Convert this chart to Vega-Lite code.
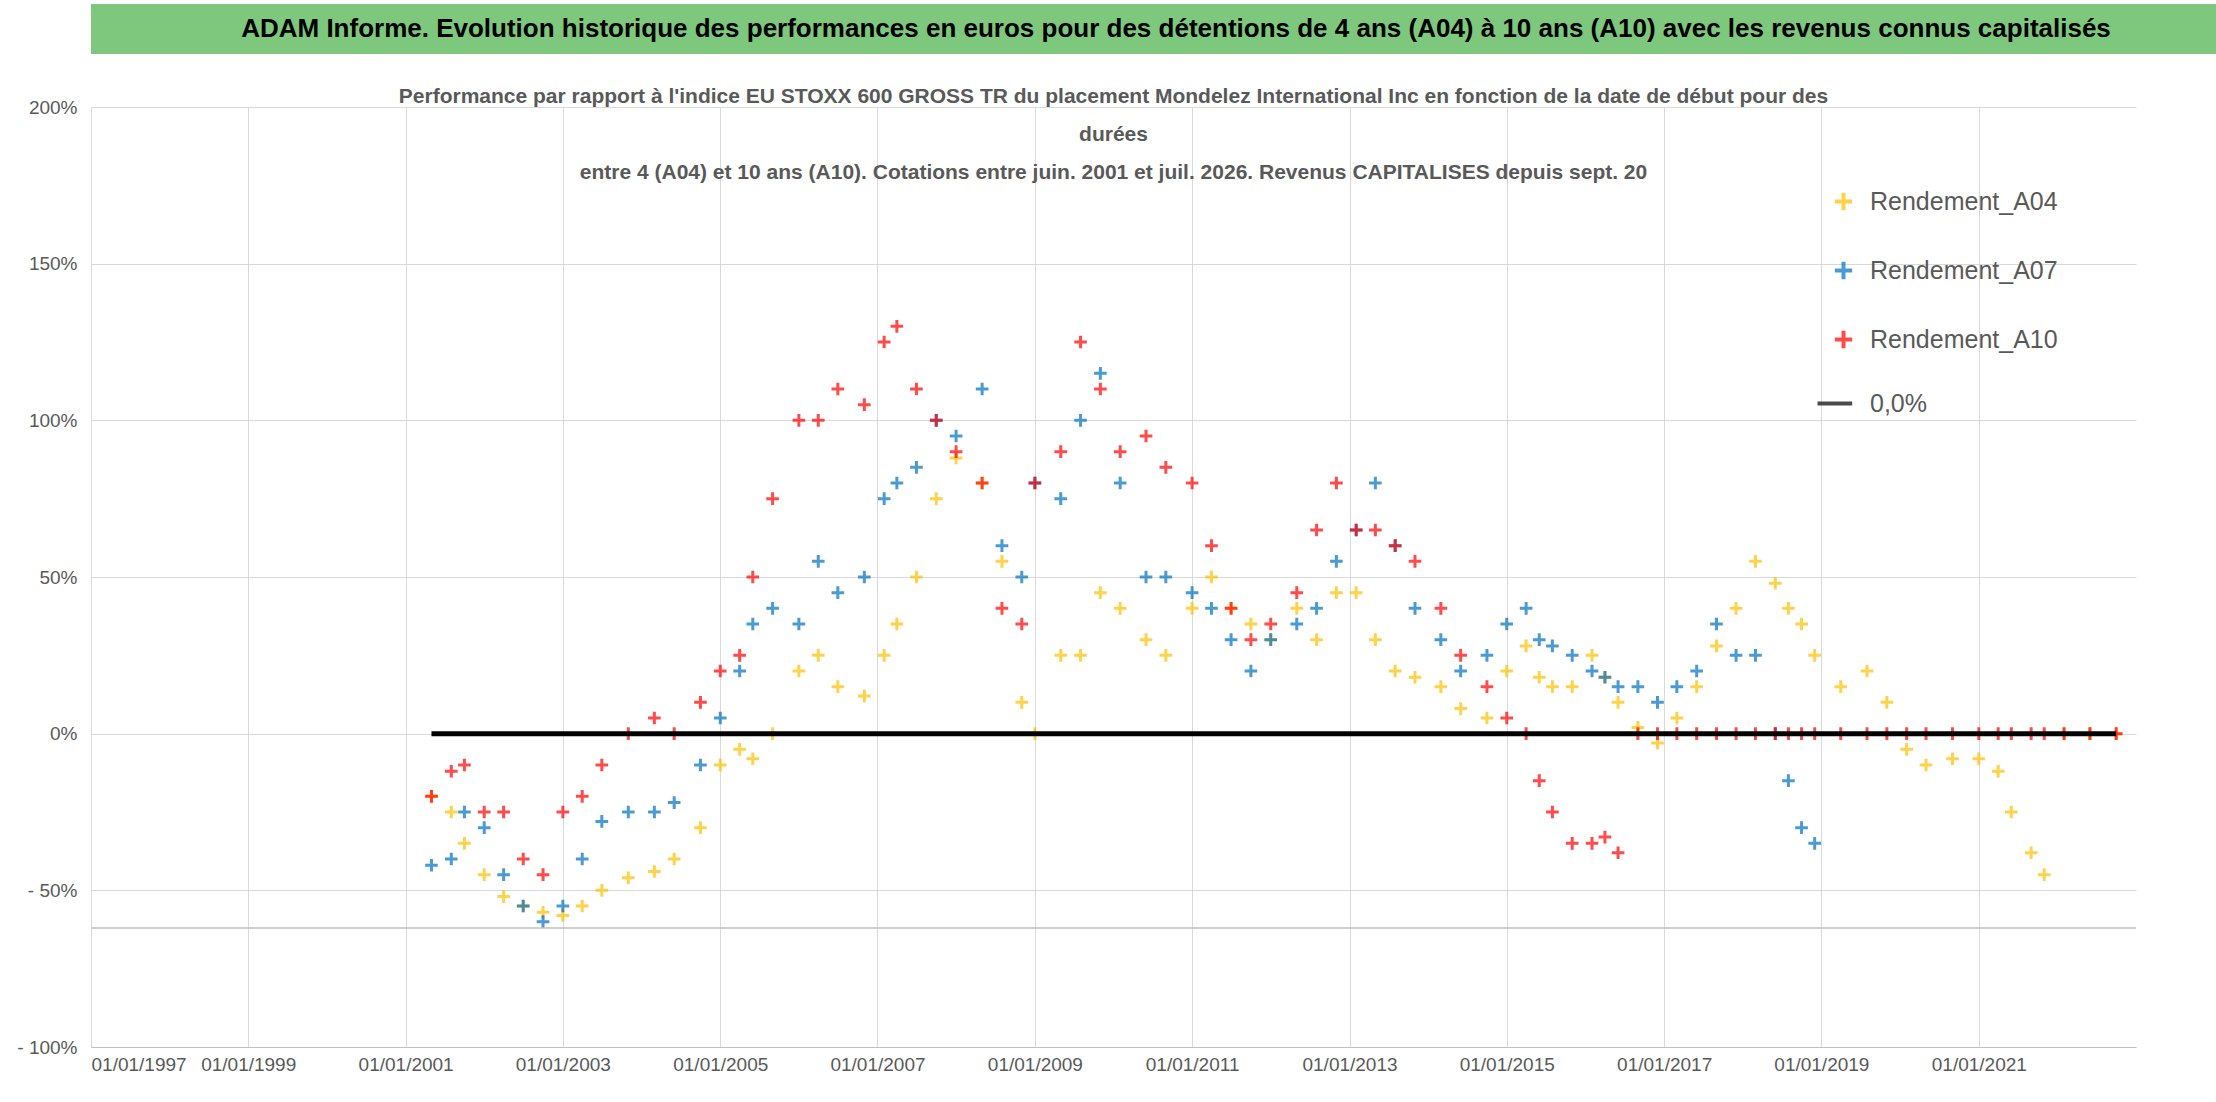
{
  "$schema": "https://vega.github.io/schema/vega-lite/v6.json",
  "background": "white",
  "padding": {"left": 16, "top": 4, "right": 4, "bottom": 4},
  "config": {"font": "Liberation Sans", "view": {"stroke": null}, "concat": {"spacing": 32}},
  "vconcat": [
    {
      "width": 2170,
      "height": 50,
      "view": {"fill": "#7ec87e", "stroke": null},
      "data": {"values": [{"t": "ADAM Informe. Evolution historique des performances en euros pour des détentions de 4 ans (A04) à 10 ans (A10) avec les revenus connus capitalisés"}]},
      "mark": {"type": "text", "fontSize": 26, "fontWeight": "bold", "color": "black", "font": "Liberation Sans"},
      "encoding": {"text": {"field": "t"}}
    },
    {
      "width": 2045,
      "height": 940,
      "title": {
        "text": ["Performance par rapport à l'indice EU STOXX 600 GROSS TR  du placement Mondelez International Inc en fonction de la date de début pour des", "durées", "entre 4 (A04) et 10 ans (A10). Cotations entre juin. 2001 et juil. 2026. Revenus CAPITALISES depuis sept. 20"],
        "fontSize": 21, "fontWeight": "bold", "color": "#595959", "offset": -125, "dy": -40, "lineHeight": 38, "font": "Liberation Sans"
      },
      "layer": [
        {
          "data": {"values": [
            {"d": "2001-05-01", "A04": -20, "A07": -42, "A10": -20},
            {"d": "2001-08-01", "A04": -25, "A07": -40, "A10": -12},
            {"d": "2001-10-01", "A04": -35, "A07": -25, "A10": -10},
            {"d": "2002-01-01", "A04": -45, "A07": -30, "A10": -25},
            {"d": "2002-04-01", "A04": -52, "A07": -45, "A10": -25},
            {"d": "2002-07-01", "A04": -55, "A07": -55, "A10": -40},
            {"d": "2002-10-01", "A04": -57, "A07": -60, "A10": -45},
            {"d": "2003-01-01", "A04": -58, "A07": -55, "A10": -25},
            {"d": "2003-04-01", "A04": -55, "A07": -40, "A10": -20},
            {"d": "2003-07-01", "A04": -50, "A07": -28, "A10": -10},
            {"d": "2003-11-01", "A04": -46, "A07": -25, "A10": 0},
            {"d": "2004-03-01", "A04": -44, "A07": -25, "A10": 5},
            {"d": "2004-06-01", "A04": -40, "A07": -22, "A10": 0},
            {"d": "2004-10-01", "A04": -30, "A07": -10, "A10": 10},
            {"d": "2005-01-01", "A04": -10, "A07": 5, "A10": 20},
            {"d": "2005-04-01", "A04": -5, "A07": 20, "A10": 25},
            {"d": "2005-06-01", "A04": -8, "A07": 35, "A10": 50},
            {"d": "2005-09-01", "A04": 0, "A07": 40, "A10": 75},
            {"d": "2006-01-01", "A04": 20, "A07": 35, "A10": 100},
            {"d": "2006-04-01", "A04": 25, "A07": 55, "A10": 100},
            {"d": "2006-07-01", "A04": 15, "A07": 45, "A10": 110},
            {"d": "2006-11-01", "A04": 12, "A07": 50, "A10": 105},
            {"d": "2007-02-01", "A04": 25, "A07": 75, "A10": 125},
            {"d": "2007-04-01", "A04": 35, "A07": 80, "A10": 130},
            {"d": "2007-07-01", "A04": 50, "A07": 85, "A10": 110},
            {"d": "2007-10-01", "A04": 75, "A07": 100, "A10": 100},
            {"d": "2008-01-01", "A04": 88, "A07": 95, "A10": 90},
            {"d": "2008-05-01", "A04": 80, "A07": 110, "A10": 80},
            {"d": "2008-08-01", "A04": 55, "A07": 60, "A10": 40},
            {"d": "2008-11-01", "A04": 10, "A07": 50, "A10": 35},
            {"d": "2009-01-01", "A04": 0, "A07": 80, "A10": 80},
            {"d": "2009-05-01", "A04": 25, "A07": 75, "A10": 90},
            {"d": "2009-08-01", "A04": 25, "A07": 100, "A10": 125},
            {"d": "2009-11-01", "A04": 45, "A07": 115, "A10": 110},
            {"d": "2010-02-01", "A04": 40, "A07": 80, "A10": 90},
            {"d": "2010-06-01", "A04": 30, "A07": 50, "A10": 95},
            {"d": "2010-09-01", "A04": 25, "A07": 50, "A10": 85},
            {"d": "2011-01-01", "A04": 40, "A07": 45, "A10": 80},
            {"d": "2011-04-01", "A04": 50, "A07": 40, "A10": 60},
            {"d": "2011-07-01", "A04": 40, "A07": 30, "A10": 40},
            {"d": "2011-10-01", "A04": 35, "A07": 20, "A10": 30},
            {"d": "2012-01-01", "A04": 30, "A07": 30, "A10": 35},
            {"d": "2012-05-01", "A04": 40, "A07": 35, "A10": 45},
            {"d": "2012-08-01", "A04": 30, "A07": 40, "A10": 65},
            {"d": "2012-11-01", "A04": 45, "A07": 55, "A10": 80},
            {"d": "2013-02-01", "A04": 45, "A07": 65, "A10": 65},
            {"d": "2013-05-01", "A04": 30, "A07": 80, "A10": 65},
            {"d": "2013-08-01", "A04": 20, "A07": 60, "A10": 60},
            {"d": "2013-11-01", "A04": 18, "A07": 40, "A10": 55},
            {"d": "2014-03-01", "A04": 15, "A07": 30, "A10": 40},
            {"d": "2014-06-01", "A04": 8, "A07": 20, "A10": 25},
            {"d": "2014-10-01", "A04": 5, "A07": 25, "A10": 15},
            {"d": "2015-01-01", "A04": 20, "A07": 35, "A10": 5},
            {"d": "2015-04-01", "A04": 28, "A07": 40, "A10": 0},
            {"d": "2015-06-01", "A04": 18, "A07": 30, "A10": -15},
            {"d": "2015-08-01", "A04": 15, "A07": 28, "A10": -25},
            {"d": "2015-11-01", "A04": 15, "A07": 25, "A10": -35},
            {"d": "2016-02-01", "A04": 25, "A07": 20, "A10": -35},
            {"d": "2016-04-01", "A04": 18, "A07": 18, "A10": -33},
            {"d": "2016-06-01", "A04": 10, "A07": 15, "A10": -38},
            {"d": "2016-09-01", "A04": 2, "A07": 15, "A10": 0},
            {"d": "2016-12-01", "A04": -3, "A07": 10, "A10": 0},
            {"d": "2017-03-01", "A04": 5, "A07": 15, "A10": 0},
            {"d": "2017-06-01", "A04": 15, "A07": 20, "A10": 0},
            {"d": "2017-09-01", "A04": 28, "A07": 35, "A10": 0},
            {"d": "2017-12-01", "A04": 40, "A07": 25, "A10": 0},
            {"d": "2018-03-01", "A04": 55, "A07": 25, "A10": 0},
            {"d": "2018-06-01", "A04": 48, "A07": 0, "A10": 0},
            {"d": "2018-08-01", "A04": 40, "A07": -15, "A10": 0},
            {"d": "2018-10-01", "A04": 35, "A07": -30, "A10": 0},
            {"d": "2018-12-01", "A04": 25, "A07": -35, "A10": 0},
            {"d": "2019-04-01", "A04": 15, "A10": 0},
            {"d": "2019-08-01", "A04": 20, "A10": 0},
            {"d": "2019-11-01", "A04": 10, "A10": 0},
            {"d": "2020-02-01", "A04": -5, "A10": 0},
            {"d": "2020-05-01", "A04": -10, "A10": 0},
            {"d": "2020-09-01", "A04": -8, "A10": 0},
            {"d": "2021-01-01", "A04": -8, "A10": 0},
            {"d": "2021-04-01", "A04": -12, "A10": 0},
            {"d": "2021-06-01", "A04": -25, "A10": 0},
            {"d": "2021-09-01", "A04": -38, "A10": 0},
            {"d": "2021-11-01", "A04": -45, "A10": 0},
            {"d": "2022-02-01", "A04": 0, "A10": 0},
            {"d": "2022-06-01", "A04": 0, "A10": 0},
            {"d": "2022-10-01", "A04": 0, "A10": 0}
          ]},
          "transform": [
            {"fold": ["A04", "A07", "A10"], "as": ["k", "v"]},
            {"filter": "isValid(datum.v)"},
            {"calculate": "'Rendement_' + datum.k", "as": "serie"}
          ],
          "mark": {"type": "point", "filled": false, "size": 160, "strokeWidth": 3},
          "encoding": {
            "x": {"field": "d", "type": "temporal"},
            "y": {"field": "v", "type": "quantitative"},
            "color": {"field": "serie", "type": "nominal"},
            "shape": {"field": "serie", "type": "nominal"}
          }
        },
        {
          "data": {"values": [{"d": "2001-05-01", "d2": "2022-10-01", "z": 0}]},
          "mark": {"type": "rule", "strokeWidth": 5},
          "encoding": {
            "x": {"field": "d", "type": "temporal"},
            "x2": {"field": "d2"},
            "y": {"field": "z", "type": "quantitative"},
            "color": {"datum": "0,0%"}
          }
        },
        {
          "data": {"values": [{"g": -62}]},
          "mark": {"type": "rule", "color": "#bfbfbf", "strokeWidth": 1.5},
          "encoding": {"y": {"field": "g", "type": "quantitative"}}
        }
      ],
      "encoding": {
        "x": {
          "type": "temporal",
          "scale": {"domain": ["1997-01-01", "2023-01-01"]},
          "axis": {"title": null, "format": "%d/%m/%Y", "values": ["1997-01-01", "1999-01-01", "2001-01-01", "2003-01-01", "2005-01-01", "2007-01-01", "2009-01-01", "2011-01-01", "2013-01-01", "2015-01-01", "2017-01-01", "2019-01-01", "2021-01-01"], "labelFontSize": 19, "labelColor": "#595959", "grid": true, "gridColor": "#d9d9d9", "domainColor": "#bfbfbf", "ticks": false, "labelPadding": 8}
        },
        "y": {
          "type": "quantitative",
          "scale": {"domain": [-100, 200], "nice": false},
          "axis": {"title": null, "values": [-100, -50, 0, 50, 100, 150, 200], "labelExpr": "datum.value < 0 ? '- ' + (-datum.value) + '%' : datum.value + '%'", "labelFontSize": 19, "labelColor": "#595959", "grid": true, "gridColor": "#d9d9d9", "domain": false, "ticks": false, "labelPadding": 14}
        },
        "color": {
          "scale": {"domain": ["Rendement_A04", "Rendement_A07", "Rendement_A10", "0,0%"], "range": ["#ffc000", "#0070c0", "#ff0000", "#000000"]},
          "legend": {"title": null, "orient": "none", "legendX": 1740, "legendY": 185, "labelFontSize": 25, "labelColor": "#595959", "rowPadding": 34, "symbolSize": 300, "symbolStrokeWidth": 4, "labelOffset": 14, "labelLimit": 0}
        },
        "shape": {
          "scale": {"domain": ["Rendement_A04", "Rendement_A07", "Rendement_A10", "0,0%"], "range": ["M-1,0H1M0,-1V1", "M-1,0H1M0,-1V1", "M-1,0H1M0,-1V1", "M-3,0H1"]},
          "legend": null
        }
      }
    }
  ]
}
